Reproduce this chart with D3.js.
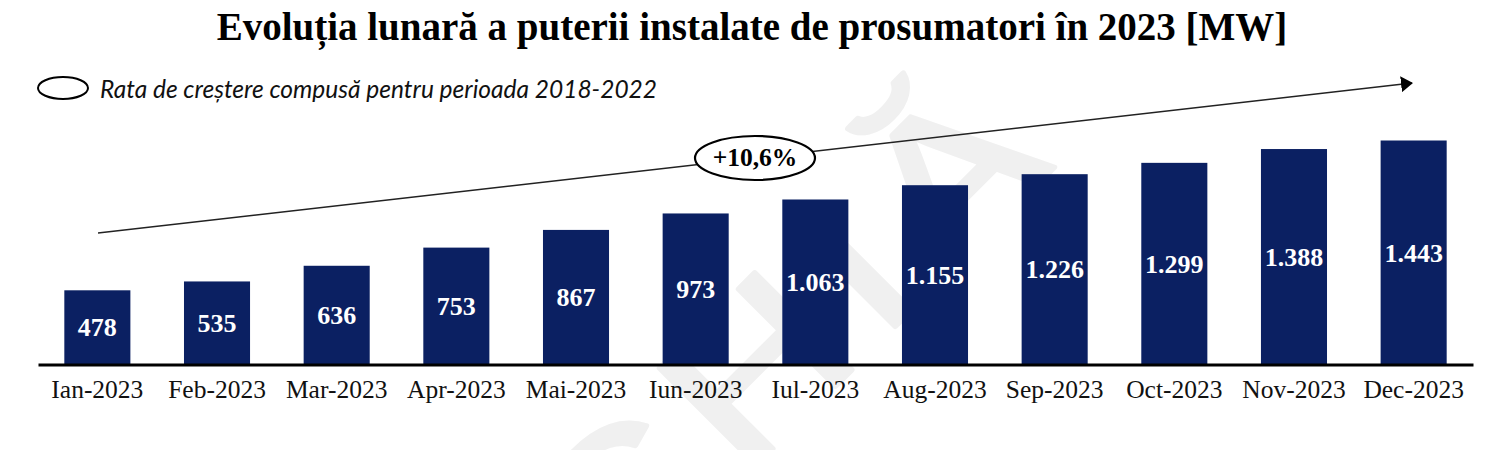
<!DOCTYPE html>
<html>
<head>
<meta charset="utf-8">
<script src="https://cdn.jsdelivr.net/npm/d3@7"></script>
<style>
  html, body { margin: 0; padding: 0; background: #fff; }
  svg { display: block; }
</style>
</head>
<body>
<svg id="chart" width="1500" height="450"></svg>
<script>
var months = ['Ian-2023', 'Feb-2023', 'Mar-2023', 'Apr-2023', 'Mai-2023', 'Iun-2023',
              'Iul-2023', 'Aug-2023', 'Sep-2023', 'Oct-2023', 'Nov-2023', 'Dec-2023'];
var power = [478, 535, 636, 753, 867, 973, 1063, 1155, 1226, 1299, 1388, 1443];
var labels = ['478', '535', '636', '753', '867', '973', '1.063', '1.155', '1.226', '1.299', '1.388', '1.443'];

var serif = '"Liberation Serif", serif';
var svg = d3.select('#chart');

// watermark behind everything
svg.append('text')
  .attr('transform', 'translate(606,616) rotate(-45) scale(1.2,1)')
  .attr('font-family', '"Liberation Sans", sans-serif')
  .attr('font-size', 200)
  .attr('letter-spacing', 17)
  .attr('fill', '#f0f0f0')
  .attr('stroke', '#f0f0f0')
  .attr('stroke-width', 5)
  .attr('stroke-linejoin', 'round')
  .text('CHIĂ');

var x = d3.scaleBand().domain(months).range([38, 1473]).paddingInner(0.448).paddingOuter(0.22);
var y = d3.scaleLinear().domain([0, 1443]).range([364.5, 140.5]);

svg.append('text')
  .attr('x', 752).attr('y', 40)
  .attr('text-anchor', 'middle')
  .attr('font-family', serif)
  .attr('font-weight', 'bold')
  .attr('font-size', 39)
  .text('Evoluția lunară a puterii instalate de prosumatori în 2023 [MW]');

// legend
svg.append('ellipse')
  .attr('cx', 63).attr('cy', 88).attr('rx', 25).attr('ry', 11)
  .attr('fill', '#fff').attr('stroke', '#000').attr('stroke-width', 2);
svg.append('text')
  .attr('x', 100).attr('y', 98)
  .attr('font-family', 'Lato, sans-serif')
  .attr('font-style', 'italic')
  .attr('font-size', 24.5)
  .attr('fill', '#111')
  .text('Rata de creștere compusă pentru perioada 2018-2022');

// bars
svg.selectAll('rect.bar')
  .data(power)
  .enter()
    .append('rect')
      .attr('class', 'bar')
      .attr('x', (d, i) => x(months[i]))
      .attr('y', d => y(d))
      .attr('width', x.bandwidth())
      .attr('height', d => y(0) - y(d))
      .attr('fill', '#0b2062');

svg.selectAll('text.val')
  .data(power)
  .enter()
    .append('text')
      .attr('class', 'val')
      .attr('x', (d, i) => x(months[i]) + x.bandwidth() / 2)
      .attr('y', d => (y(d) + y(0)) / 2 + 9)
      .attr('text-anchor', 'middle')
      .attr('font-family', serif)
      .attr('font-weight', 'bold')
      .attr('font-size', 26)
      .attr('fill', '#fff')
      .text((d, i) => labels[i]);

// axis
var axis = svg.append('g')
  .attr('transform', 'translate(0,' + y(0) + ')')
  .call(d3.axisBottom(x).tickSize(0).tickPadding(15));
axis.select('.domain').attr('stroke', '#000').attr('stroke-width', 3);
axis.selectAll('text')
  .attr('font-family', serif)
  .attr('font-size', 25.5)
  .attr('fill', '#111');

// growth arrow
svg.append('defs').append('marker')
  .attr('id', 'head')
  .attr('markerUnits', 'userSpaceOnUse')
  .attr('viewBox', '0 0 12 16')
  .attr('refX', 11).attr('refY', 8)
  .attr('markerWidth', 12).attr('markerHeight', 16)
  .attr('orient', 'auto')
  .append('path').attr('d', 'M0,0L12,8L0,16Z').attr('fill', '#000');

svg.append('line')
  .attr('x1', 98).attr('y1', 233)
  .attr('x2', 1412).attr('y2', 83)
  .attr('stroke', '#222').attr('stroke-width', 1.6)
  .attr('marker-end', 'url(#head)');

svg.append('ellipse')
  .attr('cx', 755).attr('cy', 158).attr('rx', 60).attr('ry', 22)
  .attr('fill', '#fff').attr('stroke', '#000').attr('stroke-width', 2.2);
svg.append('text')
  .attr('x', 755).attr('y', 166)
  .attr('text-anchor', 'middle')
  .attr('font-family', serif)
  .attr('font-weight', 'bold')
  .attr('font-size', 25.5)
  .text('+10,6%');
</script>
</body>
</html>
